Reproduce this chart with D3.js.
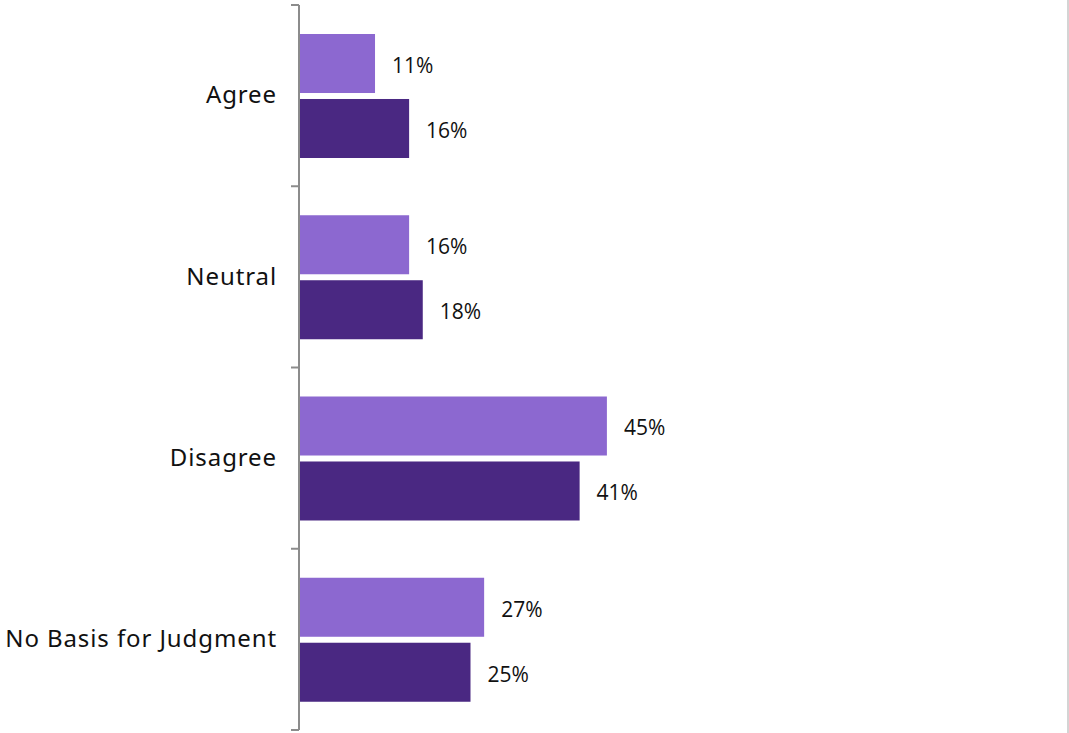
<!DOCTYPE html>
<html>
<head>
<meta charset="utf-8">
<script src="https://cdn.jsdelivr.net/npm/d3@7"></script>
<style>
  html, body { margin: 0; padding: 0; background: #ffffff; }
  svg { display: block; }
</style>
</head>
<body>
<svg id="chart" width="1069" height="733"></svg>
<script>
// Response categories, top to bottom
const categories = ["Agree", "Neutral", "Disagree", "No Basis for Judgment"];
// Two survey series, drawn light then dark within each category (percent)
const seriesNames = ["first", "second"];
const firstValues = [11, 16, 45, 27];
const secondValues = [16, 18, 41, 25];

const seriesColors = { first: "#8c68d0", second: "#4a2882" };

const rows = categories.map((c, i) => ({
  category: c,
  values: [
    { series: "first", value: firstValues[i] },
    { series: "second", value: secondValues[i] }
  ]
}));

const svg = d3.select("#chart");

// Right-hand frame line
svg.append("line")
  .attr("x1", 1068).attr("x2", 1068)
  .attr("y1", 0).attr("y2", 733)
  .attr("stroke", "#d4d4d4").attr("stroke-width", 2);

const x = d3.scaleLinear().domain([0, 50]).range([300, 641]);
const y = d3.scaleBand().domain(categories).range([5, 730]).padding(0);
const inner = d3.scaleBand().domain(seriesNames).range([29, 153]).paddingInner(0.092).paddingOuter(0);

// Category axis
const axis = d3.axisLeft(y).tickSize(0).tickPadding(22);
const axisG = svg.append("g").attr("transform", "translate(299,0)").call(axis);
axisG.select(".domain").remove();
axisG.selectAll("text")
  .attr("font-family", "'Noto Sans', sans-serif")
  .attr("font-weight", 400)
  .attr("font-size", 24)
  .attr("fill", "#111")
  .attr("letter-spacing", "0.9px");

// Axis spine and boundary ticks between categories
svg.append("line")
  .attr("x1", 299).attr("x2", 299)
  .attr("y1", 5).attr("y2", 730)
  .attr("stroke", "#8c8c8c").attr("stroke-width", 2);
const bounds = categories.map(c => y(c)).concat([y.range()[1]]);
svg.selectAll("line.bound").data(bounds).enter().append("line")
  .attr("class", "bound")
  .attr("x1", 291).attr("x2", 299)
  .attr("y1", d => d).attr("y2", d => d)
  .attr("stroke", "#8c8c8c").attr("stroke-width", 2);

// Bars and value labels
const groups = svg.selectAll("g.cat").data(rows).enter().append("g")
  .attr("class", "cat")
  .attr("transform", d => `translate(0,${y(d.category)})`);

groups.selectAll("rect").data(d => d.values).enter().append("rect")
  .attr("x", x(0))
  .attr("y", d => inner(d.series))
  .attr("width", d => x(d.value) - x(0))
  .attr("height", inner.bandwidth())
  .attr("fill", d => seriesColors[d.series]);

groups.selectAll("text.val").data(d => d.values).enter().append("text")
  .attr("class", "val")
  .attr("x", d => x(d.value) + 17)
  .attr("y", d => inner(d.series) + inner.bandwidth() / 2)
  .attr("dy", "0.45em")
  .attr("font-family", "'Open Sans', 'Liberation Sans', sans-serif")
  .attr("font-size", 21)
  .attr("fill", "#111")
  .text(d => d.value + "%");
</script>
</body>
</html>
